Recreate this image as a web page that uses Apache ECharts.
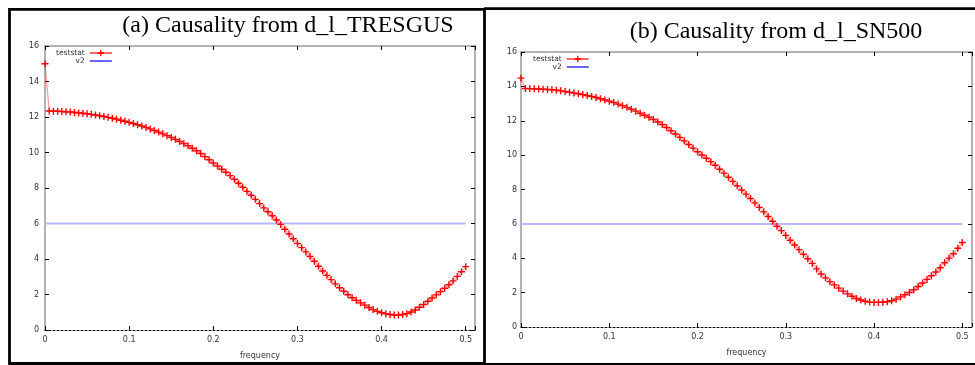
<!DOCTYPE html>
<html>
<head>
<meta charset="utf-8">
<script src="https://cdn.jsdelivr.net/npm/echarts@6.0.0/dist/echarts.min.js"></script>
<style>
  html, body { margin: 0; padding: 0; background: #fff; }
  #chart { width: 975px; height: 365px; }
</style>
</head>
<body>
<div id="chart"></div>
<script>
// frequency grid shared by both panels
const freq = [
  0.000, 0.005, 0.010, 0.015, 0.020, 0.025, 0.030, 0.035, 0.040, 0.045,
  0.050, 0.055, 0.060, 0.065, 0.070, 0.075, 0.080, 0.085, 0.090, 0.095,
  0.100, 0.105, 0.110, 0.115, 0.120, 0.125, 0.130, 0.135, 0.140, 0.145,
  0.150, 0.155, 0.160, 0.165, 0.170, 0.175, 0.180, 0.185, 0.190, 0.195,
  0.200, 0.205, 0.210, 0.215, 0.220, 0.225, 0.230, 0.235, 0.240, 0.245,
  0.250, 0.255, 0.260, 0.265, 0.270, 0.275, 0.280, 0.285, 0.290, 0.295,
  0.300, 0.305, 0.310, 0.315, 0.320, 0.325, 0.330, 0.335, 0.340, 0.345,
  0.350, 0.355, 0.360, 0.365, 0.370, 0.375, 0.380, 0.385, 0.390, 0.395,
  0.400, 0.405, 0.410, 0.415, 0.420, 0.425, 0.430, 0.435, 0.440, 0.445,
  0.450, 0.455, 0.460, 0.465, 0.470, 0.475, 0.480, 0.485, 0.490, 0.495,
  0.500
]

// (a) d_l_TRESGUS
const teststatA = [
  15.00, 12.34, 12.33, 12.32, 12.31, 12.30, 12.28, 12.25, 12.23, 12.21,
  12.18, 12.15, 12.11, 12.07, 12.03, 11.98, 11.93, 11.88, 11.82, 11.76,
  11.70, 11.63, 11.56, 11.49, 11.41, 11.33, 11.24, 11.15, 11.05, 10.95,
  10.85, 10.74, 10.62, 10.50, 10.38, 10.24, 10.10, 9.94, 9.77, 9.59,
  9.41, 9.24, 9.06, 8.89, 8.70, 8.49, 8.27, 8.04, 7.81, 7.59,
  7.36, 7.12, 6.88, 6.66, 6.44, 6.20, 5.95, 5.68, 5.41, 5.14,
  4.88, 4.64, 4.40, 4.14, 3.87, 3.59, 3.32, 3.08, 2.84, 2.60,
  2.38, 2.18, 1.99, 1.82, 1.67, 1.53, 1.40, 1.27, 1.15, 1.05,
  0.97, 0.91, 0.87, 0.84, 0.84, 0.87, 0.92, 1.01, 1.13, 1.28,
  1.44, 1.62, 1.80, 1.98, 2.16, 2.35, 2.55, 2.77, 3.02, 3.28,
  3.57
]

// (b) d_l_SN500
const teststatB = [
  14.48, 13.88, 13.87, 13.86, 13.85, 13.84, 13.82, 13.80, 13.78, 13.74,
  13.70, 13.66, 13.61, 13.57, 13.52, 13.47, 13.41, 13.35, 13.28, 13.21,
  13.14, 13.06, 12.97, 12.88, 12.78, 12.67, 12.56, 12.44, 12.32, 12.20,
  12.07, 11.93, 11.78, 11.61, 11.42, 11.23, 11.03, 10.83, 10.62, 10.41,
  10.20, 10.01, 9.82, 9.62, 9.41, 9.18, 8.95, 8.71, 8.47, 8.22,
  7.97, 7.73, 7.48, 7.22, 6.96, 6.70, 6.43, 6.15, 5.86, 5.61,
  5.33, 5.05, 4.77, 4.50, 4.23, 3.97, 3.70, 3.38, 3.08, 2.86,
  2.64, 2.45, 2.26, 2.09, 1.93, 1.79, 1.66, 1.57, 1.50, 1.45,
  1.43, 1.43, 1.44, 1.47, 1.53, 1.62, 1.75, 1.88, 2.01, 2.17,
  2.36, 2.56, 2.77, 2.98, 3.20, 3.45, 3.74, 4.01, 4.26, 4.58,
  4.92
]

// critical value line
const v2Freq = [0, 0.5]
const v2Value = [6, 6]

const titles = ['(a) Causality from d_l_TRESGUS', '(b) Causality from d_l_SN500']

const FONT = 'DejaVu Sans'
const plusSymbol = 'path://M0,4H10V6H0Z M4,0H6V10H4Z'
const xMax = 0.511

const panels = [
  { data: teststatA, grid: { left: 45, top: 46, right: 500, bottom: 33 }, labelMargin: 6, legend: { left: 56, top: 49 } },
  { data: teststatB, grid: { left: 521, top: 52, right: -1, bottom: 38 }, labelMargin: 4, legend: { left: 533, top: 55 } },
]

const xAxes = []
const yAxes = []
const series = []
const legends = []

panels.forEach((p, i) => {
  xAxes.push({
    type: 'value', gridIndex: i, position: 'bottom', min: 0, max: xMax, interval: 0.1,
    name: 'frequency', nameLocation: 'middle', nameGap: 22,
    nameTextStyle: { fontSize: 8, color: '#333', fontFamily: FONT },
    axisLine: { show: true, onZero: false, lineStyle: { color: '#000', width: 1, type: [2, 2] } },
    axisTick: { show: true, inside: true, length: 4, lineStyle: { color: '#000' } },
    axisLabel: {
      fontSize: 8, color: '#333', margin: 6, fontFamily: FONT,
      formatter: v => Math.abs(v * 10 - Math.round(v * 10)) < 1e-6 ? String(+v.toFixed(1)) : '',
    },
    splitLine: { show: false },
  })
  xAxes.push({
    type: 'value', gridIndex: i, position: 'top', min: 0, max: xMax, interval: 0.1,
    axisLine: { show: true, onZero: false, lineStyle: { color: '#999', width: 1.5 } },
    axisTick: { show: true, inside: true, length: 4, lineStyle: { color: '#000' } },
    axisLabel: { show: false },
    splitLine: { show: false },
  })
  yAxes.push({
    type: 'value', gridIndex: i, position: 'left', min: 0, max: 16, interval: 2,
    axisLine: { show: true, onZero: false, lineStyle: { color: '#999', width: 1.5 } },
    axisTick: { show: true, inside: true, length: 4, lineStyle: { color: '#000' } },
    axisLabel: { fontSize: 8, color: '#333', margin: p.labelMargin, fontFamily: FONT },
    splitLine: { show: false },
  })
  yAxes.push({
    type: 'value', gridIndex: i, position: 'right', min: 0, max: 16, interval: 2,
    axisLine: { show: true, onZero: false, lineStyle: { color: '#999', width: 1.5 } },
    axisTick: { show: true, inside: true, length: 4, lineStyle: { color: '#000' } },
    axisLabel: { show: false },
    splitLine: { show: false },
  })

  series.push({
    name: 'v2', type: 'line', xAxisIndex: 2 * i, yAxisIndex: 2 * i,
    data: v2Freq.map((f, k) => [f, v2Value[k]]),
    symbol: 'none', z: 2,
    lineStyle: { color: '#b8b8f6', width: 2 },
    itemStyle: { color: '#b8b8f6' },
  })
  series.push({
    name: 'teststat', type: 'line', xAxisIndex: 2 * i, yAxisIndex: 2 * i,
    data: freq.map((f, k) => [f, p.data[k]]),
    symbol: plusSymbol, symbolSize: 7, showAllSymbol: true, z: 3,
    lineStyle: { color: 'rgba(255, 0, 0, 0.4)', width: 1.2 },
    itemStyle: { color: '#ff0000' },
  })

  legends.push({
    orient: 'vertical', align: 'right', left: p.legend.left, top: p.legend.top,
    padding: 0, itemGap: 0, itemWidth: 22, itemHeight: 8, selectedMode: false,
    textStyle: { fontSize: 7.5, lineHeight: 8, color: '#333', fontFamily: FONT },
    data: [
      { name: 'teststat', lineStyle: { color: '#ff0000', width: 1.2 } },
      { name: 'v2', lineStyle: { color: '#0000ff', width: 1.2 }, itemStyle: { opacity: 0 } },
    ],
  })
})

const chart = echarts.init(document.getElementById('chart'), null, { renderer: 'canvas' })
chart.setOption({
  animation: false,
  backgroundColor: '#fff',
  grid: panels.map(p => ({ ...p.grid, show: false })),
  xAxis: xAxes,
  yAxis: yAxes,
  legend: legends,
  series,
  graphic: [
    {
      type: 'text', x: 288, y: 26,
      style: { text: titles[0], fill: '#000', font: '24px "Liberation Serif", serif', align: 'center', verticalAlign: 'middle' },
    },
    {
      type: 'text', x: 776, y: 32,
      style: { text: titles[1], fill: '#000', font: '24px "Liberation Serif", serif', align: 'center', verticalAlign: 'middle' },
    },
    // panel frames
    { type: 'rect', shape: { x: 9.5, y: 9.3, width: 475, height: 354.2 }, style: { fill: 'none', stroke: '#000', lineWidth: 2.8 } },
    { type: 'line', shape: { x1: 484, y1: 8.7, x2: 976, y2: 8.7 }, style: { stroke: '#000', lineWidth: 2.8 } },
    { type: 'line', shape: { x1: 484, y1: 364.3, x2: 976, y2: 364.3 }, style: { stroke: '#000', lineWidth: 2.8 } },
  ],
})
</script>
</body>
</html>
